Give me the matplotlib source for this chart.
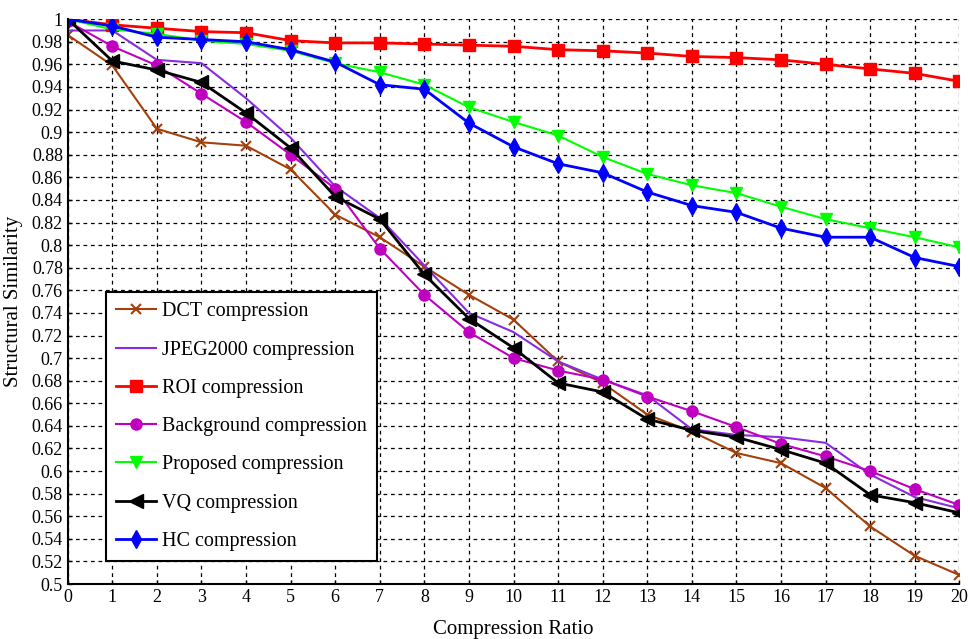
import matplotlib
matplotlib.use('Agg')
import matplotlib.pyplot as plt
import numpy as np

plt.rcParams['font.family'] = ['Liberation Serif', 'DejaVu Serif']

ratio = list(range(0, 21))

dct = [0.986, 0.959, 0.903, 0.891, 0.888, 0.867, 0.827, 0.807, 0.781, 0.756, 0.734,
       0.697, 0.678, 0.650, 0.635, 0.616, 0.607, 0.585, 0.551, 0.525, 0.508]
jpeg2000 = [0.990, 0.990, 0.964, 0.961, 0.930, 0.895, 0.852, 0.824, 0.782, 0.740, 0.723,
            0.697, 0.681, 0.667, 0.637, 0.632, 0.630, 0.625, 0.597, 0.577, 0.567]
roi = [1.000, 0.995, 0.992, 0.989, 0.988, 0.981, 0.979, 0.979, 0.978, 0.977, 0.976,
       0.973, 0.972, 0.970, 0.967, 0.966, 0.964, 0.960, 0.956, 0.952, 0.945]
background = [0.998, 0.976, 0.959, 0.934, 0.909, 0.880, 0.850, 0.797, 0.756, 0.723, 0.700,
              0.689, 0.681, 0.666, 0.653, 0.639, 0.624, 0.613, 0.600, 0.584, 0.570]
proposed = [1.000, 0.991, 0.987, 0.981, 0.978, 0.972, 0.961, 0.953, 0.942, 0.922, 0.909,
            0.897, 0.878, 0.863, 0.853, 0.846, 0.834, 0.823, 0.815, 0.807, 0.798]
vq = [1.000, 0.963, 0.955, 0.944, 0.917, 0.886, 0.843, 0.823, 0.774, 0.735, 0.709,
      0.678, 0.670, 0.646, 0.636, 0.630, 0.619, 0.607, 0.579, 0.572, 0.563]
hc = [1.000, 0.994, 0.984, 0.982, 0.980, 0.973, 0.962, 0.942, 0.938, 0.908, 0.887,
      0.872, 0.864, 0.847, 0.835, 0.829, 0.815, 0.807, 0.807, 0.789, 0.781]

fig = plt.figure(figsize=(9.68, 6.39), dpi=100)
ax = fig.add_axes([0.070, 0.086, 0.921, 0.884])

ax.plot(ratio, dct, color='#a3410c', marker='x', ms=7, mew=1.5, lw=1.5, label='DCT compression')
ax.plot(ratio, jpeg2000, color='#8a2be2', lw=1.5, label='JPEG2000 compression')
ax.plot(ratio, roi, color='red', marker='s', ms=8, lw=2, label='ROI compression')
ax.plot(ratio, background, color='#c000c0', marker='o', ms=8, lw=1.5, label='Background compression')
ax.plot(ratio, proposed, color='#00ff00', marker='v', ms=9, lw=1.5, label='Proposed compression')
ax.plot(ratio, vq, color='black', marker='<', ms=10, lw=2, label='VQ compression')
ax.plot(ratio, hc, color='blue', marker='d', ms=9, lw=2, label='HC compression')

ax.set_xlim(0, 20)
ax.set_ylim(0.5, 1.0)
ax.set_xticks(ratio)
yt = np.round(np.arange(0.5, 1.001, 0.02), 2)
ax.set_yticks(yt)
ax.set_yticklabels(['%g' % v for v in yt])
ax.tick_params(direction='in', length=3, labelsize=13, width=1)

ax.grid(True, color='black', linestyle=(0, (3, 3)), linewidth=0.9)
ax.spines['top'].set_visible(False)
ax.spines['right'].set_visible(False)
ax.spines['left'].set_linewidth(1.5)
ax.spines['bottom'].set_linewidth(1.5)

ax.set_xlabel('Compression Ratio', fontsize=15, labelpad=10)
ax.set_ylabel('Structural Similarity', fontsize=15, labelpad=6)

leg = ax.legend(loc='lower left', bbox_to_anchor=(0.043, 0.041), fontsize=14.5,
                fancybox=False, framealpha=1, edgecolor='black', handlelength=2.0,
                handletextpad=0.3, labelspacing=0.95, borderpad=0.5, borderaxespad=0)
leg.get_frame().set_linewidth(1.5)

fig.savefig('out.png', dpi=100)
